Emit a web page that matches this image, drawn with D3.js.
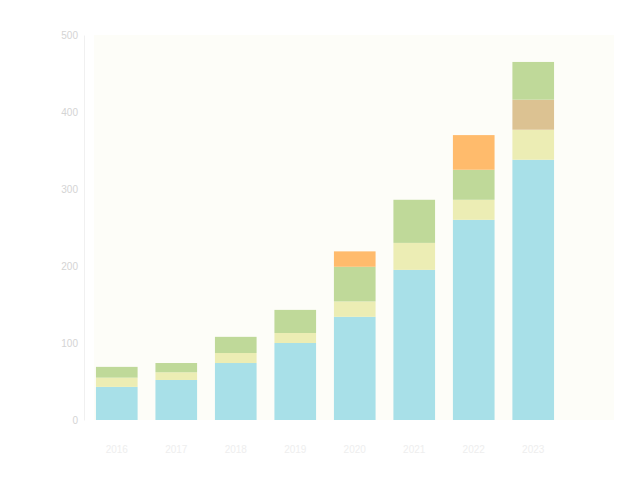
<!DOCTYPE html>
<html>
<head>
<meta charset="utf-8">
<script src="https://cdn.jsdelivr.net/npm/d3@7"></script>
<style>
  body { margin: 0; background: #fff; }
  svg { font-family: 'DejaVu Sans', sans-serif; }
</style>
</head>
<body>
<svg id="chart" width="640" height="480"></svg>
<script>
const categories = ['2016', '2017', '2018', '2019', '2020', '2021', '2022', '2023']
const seriesNames = ['A', 'B', 'C', 'D', 'E']
const seriesA = [43, 52, 74, 100, 134, 195, 260, 338]
const seriesB = [12, 10, 13, 13, 20, 35, 26, 39]
const seriesC = [0, 0, 0, 0, 0, 0, 0, 39]
const seriesD = [14, 12, 21, 30, 45, 56, 39, 49]
const seriesE = [0, 0, 0, 0, 20, 0, 45, 0]
const yTicks = [0, 100, 200, 300, 400, 500]

const colors = ['#a8e0e8', '#ecedb4', '#dcc292', '#bfd999', '#ffbb6c']

const width = 640
const height = 480
const margin = { top: 35, right: 80, bottom: 60, left: 90 }

const svg = d3.select('#chart')

const rows = categories.map((c, i) => ({
  cat: c,
  A: seriesA[i],
  B: seriesB[i],
  C: seriesC[i],
  D: seriesD[i],
  E: seriesE[i]
}))

const x = d3.scaleBand()
  .domain(categories)
  .range([margin.left, width - margin.right])
  .paddingInner(0.3)
  .paddingOuter(0.1)

const y = d3.scaleLinear()
  .domain([0, 500])
  .range([height - margin.bottom, margin.top])

// faint plot background
svg.append('rect')
  .attr('x', margin.left + 4)
  .attr('y', margin.top)
  .attr('width', width - margin.right - margin.left + 50)
  .attr('height', height - margin.bottom - margin.top)
  .attr('fill', '#fdfdf8')

const stack = d3.stack().keys(seriesNames)(rows)

svg.append('g')
  .selectAll('g')
  .data(stack)
  .enter()
  .append('g')
  .attr('fill', (d, i) => colors[i])
  .selectAll('rect')
  .data(d => d)
  .enter()
  .append('rect')
  .attr('x', d => x(d.data.cat))
  .attr('y', d => y(d[1]))
  .attr('width', x.bandwidth())
  .attr('height', d => y(d[0]) - y(d[1]))

const yAxis = svg.append('g')
  .attr('transform', `translate(${margin.left - 6}, 0)`)
  .call(d3.axisLeft(y).tickValues(yTicks).tickSize(0).tickPadding(6))
yAxis.select('.domain').attr('stroke', '#f0f0f0')
yAxis.selectAll('text').attr('fill', '#d4d4d4').style('font-size', '10px')

const xAxis = svg.append('g')
  .attr('transform', `translate(0, ${height - margin.bottom + 4})`)
  .call(d3.axisBottom(x).tickSize(0).tickPadding(22))
xAxis.select('.domain').remove()
xAxis.selectAll('text').attr('fill', '#eeeeee').style('font-size', '10px')
</script>
</body>
</html>
